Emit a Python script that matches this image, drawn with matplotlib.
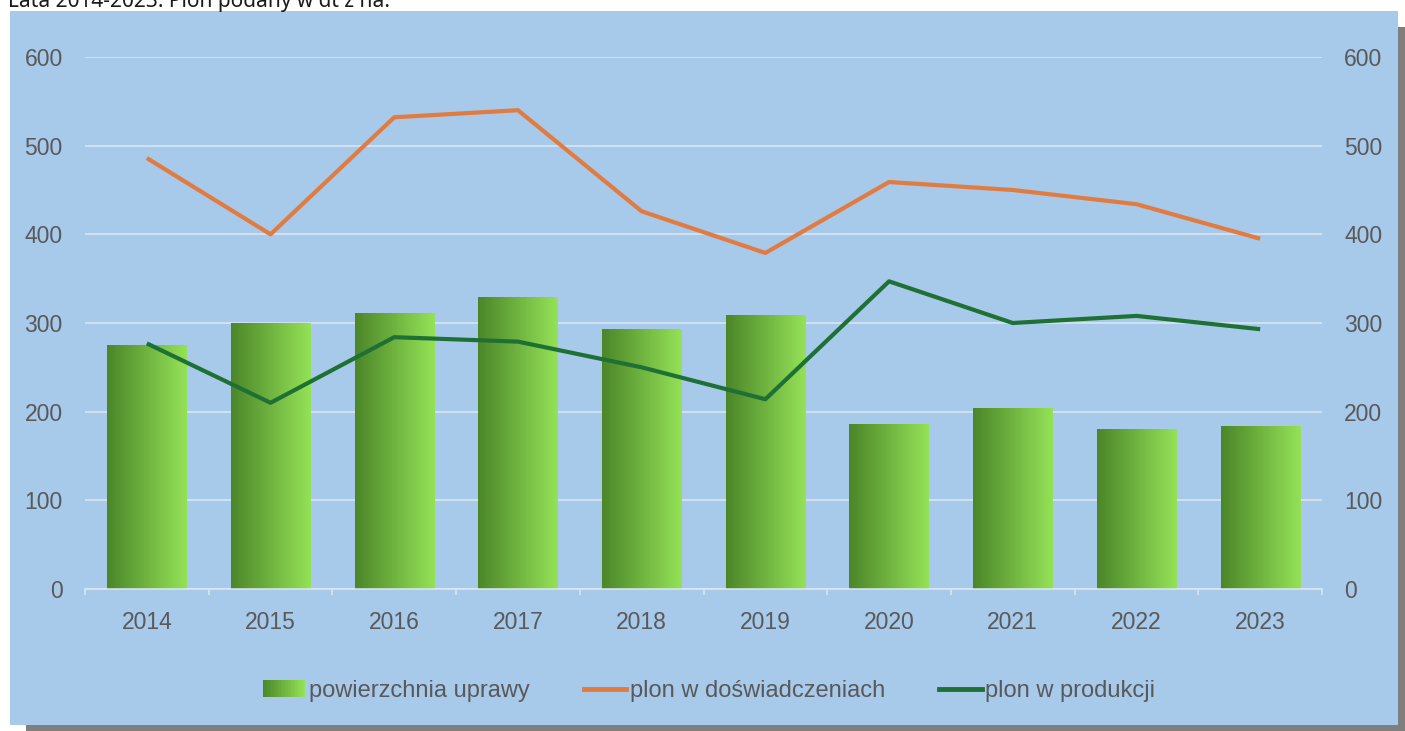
import numpy as np
import matplotlib
matplotlib.use("Agg")
import matplotlib.pyplot as plt
from matplotlib.patches import Rectangle
from matplotlib.lines import Line2D
from matplotlib.colors import LinearSegmentedColormap
from matplotlib.legend_handler import HandlerBase

# data
years = ['2014', '2015', '2016', '2017', '2018', '2019', '2020', '2021', '2022', '2023']
powierzchnia = [275, 299, 311, 329, 293, 308, 186, 204, 180, 183]
plon_dosw = [486, 400, 532, 540, 426, 379, 459, 450, 434, 395]
plon_prod = [277, 210, 284, 279, 250, 214, 347, 300, 308, 293]

bg = '#A7C9EA'
txt = '#595959'
orange = '#E27B40'
dgreen = '#1F7034'
grad = LinearSegmentedColormap.from_list('g', ['#4C8629', '#94E257'])

plt.rcParams['font.family'] = ['Liberation Sans', 'DejaVu Sans']

W, H = 1405, 731
fig = plt.figure(figsize=(W / 100, H / 100), dpi=100, facecolor='white')

# shadow + panel
fig.patches.append(Rectangle((26 / W, 0), 1 - 26 / W, 1 - 27 / H, transform=fig.transFigure,
                             facecolor='#7F7F7F', edgecolor='none', zorder=-3))
fig.patches.append(Rectangle((10 / W, 1 - 725 / H), 1388 / W, 714 / H, transform=fig.transFigure,
                             facecolor=bg, edgecolor='none', zorder=-2))
fig.text(8 / W, 1 - 7 / H, 'Lata 2014-2023. Plon podany w dt z ha.', fontsize=15,
         family=['Noto Sans', 'DejaVu Sans'], color='#1A1A1A', va='baseline', ha='left')

ax = fig.add_axes([85 / W, 1 - 589 / H, (1322 - 85) / W, (589 - 57) / H])
ax.set_facecolor('none')
x = np.arange(len(years))

bars = ax.bar(x, powierzchnia, width=0.64, color='none', zorder=2)
g = np.linspace(0, 1, 100).reshape(1, -1)
for b in bars:
    bx, bw, bh = b.get_x(), b.get_width(), b.get_height()
    ax.imshow(g, extent=[bx, bx + bw, 0, bh], aspect='auto', cmap=grad, zorder=2)

ax.plot(x, plon_dosw, color=orange, lw=3, zorder=4, solid_capstyle='butt')
ax.plot(x, plon_prod, color=dgreen, lw=3, zorder=4, solid_capstyle='butt')

ax.set_xlim(-0.5, len(years) - 0.5)
ax.set_ylim(0, 600)
ax.set_yticks(range(0, 601, 100))
ax.yaxis.grid(True, color='#DCE8F4', lw=1.1, zorder=0)
ax.set_axisbelow(True)
for s in ['top', 'right', 'left']:
    ax.spines[s].set_visible(False)
ax.spines['bottom'].set_color('#DCE8F4')
ax.spines['bottom'].set_linewidth(1.1)
ax.spines['bottom'].set_zorder(3)

ax.set_xticks(x)
ax.set_xticklabels(years)
ax.set_xticks(np.arange(-0.5, len(years)), minor=True)
ax.tick_params(axis='x', which='major', length=0, pad=16, labelsize=16.5, labelcolor=txt)
ax.tick_params(axis='x', which='minor', length=4, width=1.1, color='#DCE8F4', direction='out')
ax.tick_params(axis='y', length=0, pad=16, labelsize=16.5, labelcolor=txt)

ax2 = ax.twinx()
ax2.set_ylim(0, 600)
ax2.set_yticks(range(0, 601, 100))
for s in ax2.spines.values():
    s.set_visible(False)
ax2.tick_params(axis='y', length=0, pad=16, labelsize=16.5, labelcolor=txt)


class GradHandler(HandlerBase):
    def create_artists(self, legend, orig_handle, xdescent, ydescent, width, height, fontsize, trans):
        n = 30
        arts = []
        for i in range(n):
            r = Rectangle((-xdescent + width * i / n, -ydescent), width / n * 1.1, height,
                          facecolor=grad(i / (n - 1)), edgecolor='none', transform=trans)
            arts.append(r)
        return arts


h_bar = Rectangle((0, 0), 1, 1)
h_o = Line2D([], [], color=orange, lw=3.5)
h_g = Line2D([], [], color=dgreen, lw=3.5)
fig.legend([h_bar, h_o, h_g], ['powierzchnia uprawy', 'plon w doświadczeniach', 'plon w produkcji'],
           handler_map={Rectangle: GradHandler()}, loc='center', bbox_to_anchor=(709 / W, 1 - 691 / H),
           ncol=3, frameon=False, fontsize=17, labelcolor=txt, handlelength=1.8,
           handletextpad=0.15, columnspacing=2.3)

fig.savefig('out.png', dpi=100, facecolor='white')
